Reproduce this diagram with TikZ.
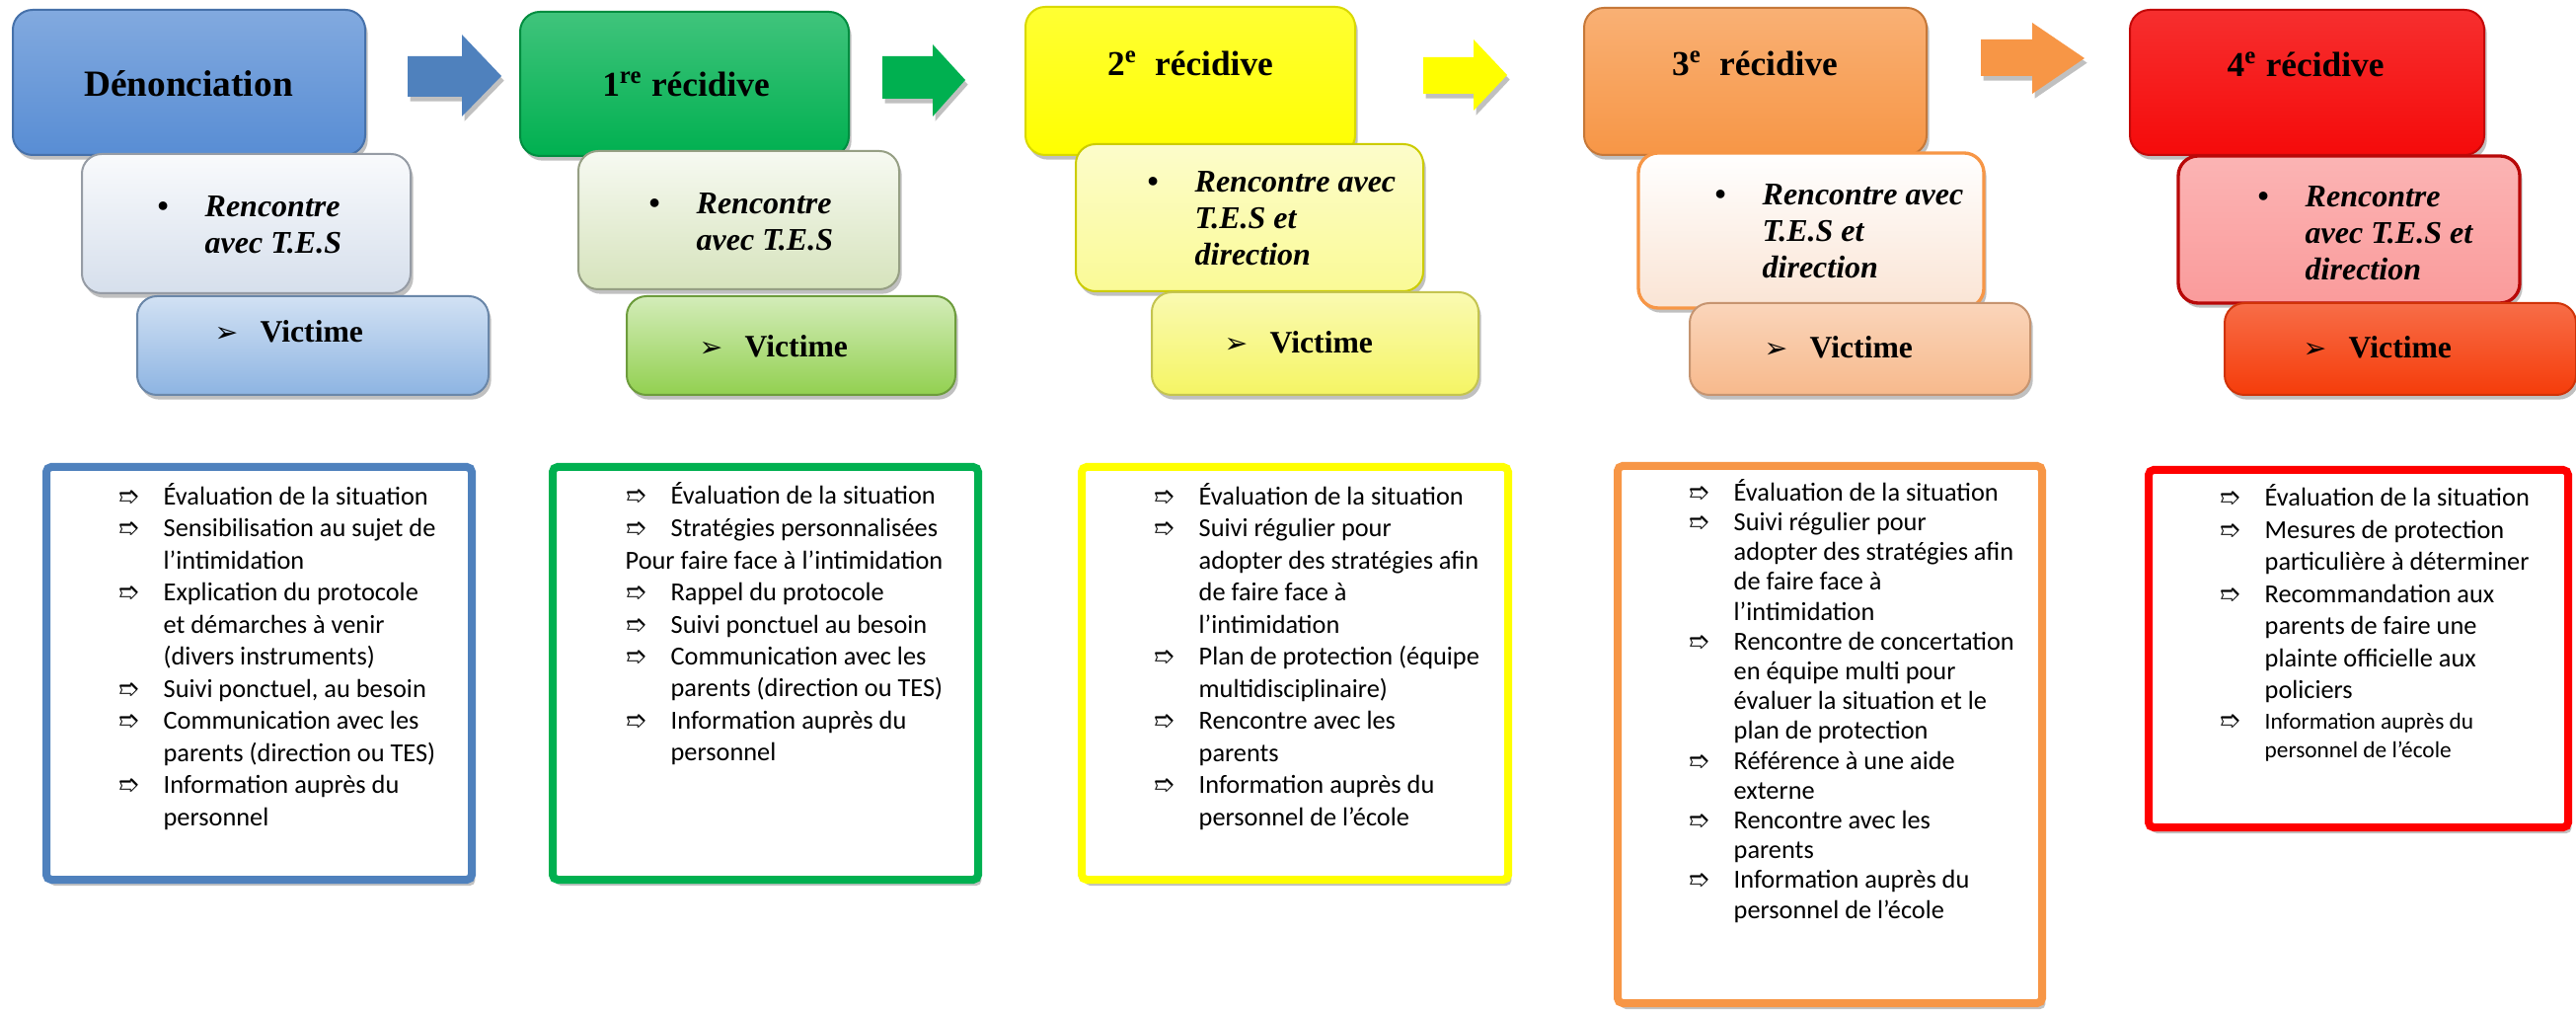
\documentclass[tikz,border=0pt]{standalone}
\usepackage{fontspec}
\setmainfont{Liberation Serif}
\newfontfamily\calib{Carlito}
\newfontfamily\djv{DejaVu Sans}
\usetikzlibrary{shadows,fit}

\definecolor{bl}{RGB}{88,141,212}
\definecolor{blR}{RGB}{214,223,236}
\definecolor{blV}{RGB}{141,180,226}
\definecolor{blB}{RGB}{79,129,189}
\definecolor{gr}{RGB}{0,176,80}
\definecolor{grR}{RGB}{214,227,188}
\definecolor{grV}{RGB}{146,208,80}
\definecolor{ye}{RGB}{255,255,0}
\definecolor{yeR}{RGB}{250,250,150}
\definecolor{yeV}{RGB}{245,245,100}
\definecolor{orc}{RGB}{247,150,70}
\definecolor{orR}{RGB}{250,228,212}
\definecolor{orV}{RGB}{247,185,140}
\definecolor{rd}{RGB}{245,10,10}
\definecolor{rdR}{RGB}{250,155,155}
\definecolor{rdV}{RGB}{245,60,10}

\newcommand\lb{\makebox[13.8pt][l]{\djv\fontsize{7.6}{6}\selectfont ➱}}
\newcommand\li{\hspace*{13.8pt}}
\newcommand\rb{\makebox[14.4pt][l]{\textup{•}}}
\newcommand\ri{\hspace*{14.4pt}}
\newcommand\vb{\makebox[13.8pt][l]{\djv\fontsize{8.5}{6}\selectfont ➢}}

\begin{document}
\begin{tikzpicture}[x=0.3pt,y=-0.3pt,
  shd/.style={drop shadow={shadow xshift=0.8pt,shadow yshift=-1.4pt,opacity=0.35,fill=black!70}},
  bx/.style={inner sep=0pt, rounded corners=6pt, line width=0.6pt, shd},
  topbox/.style={bx, draw=#1!80!black, top color=#1!75!white, bottom color=#1},
  midbox/.style={bx, top color=#1!40!white, bottom color=#1},
  lst/.style={inner sep=0pt, rounded corners=1.5pt, line width=2.4pt, fill=white,
     drop shadow={shadow xshift=1pt,shadow yshift=-1.8pt,opacity=0.4,fill=black!60}},
  ttl/.style={anchor=base, inner sep=0pt, font=\fontsize{10.6}{12}\selectfont\bfseries},
  rtx/.style={anchor=base west, inner sep=0pt, align=left, font=\fontsize{9.6}{11.1}\selectfont\bfseries\itshape},
  vtx/.style={anchor=base west, inner sep=0pt, font=\fontsize{9.5}{11}\selectfont\bfseries},
  ltx/.style={anchor=base west, inner sep=0pt, align=left, font=\calib\fontsize{7.9}{9.75}\selectfont},
  blk/.style={shd}
]
\useasboundingbox[fill=white] (0,0) rectangle (2610,1025);

% ---------- block arrows ----------
\fill[blk, fill=blB] (413,57) -- (468,57) -- (468,35) -- (508,77) -- (468,118) -- (468,98) -- (413,98) -- cycle;
\fill[blk, fill=gr] (894,57) -- (945,57) -- (945,45) -- (978,81) -- (945,118) -- (945,100) -- (894,100) -- cycle;
\fill[blk, fill=ye] (1442,58) -- (1493,58) -- (1493,40) -- (1527,76) -- (1493,112) -- (1493,95) -- (1442,95) -- cycle;
\fill[blk, fill=orc] (2007,40) -- (2059,40) -- (2059,23) -- (2112,59) -- (2059,95) -- (2059,77) -- (2007,77) -- cycle;

% ---------- column 1 ----------
\node[topbox=bl, fit={(13,10) (370,157)}] (T1) {};
\node[midbox=blR, draw=blR!70!black, top color=white!85!blR, bottom color=blR, fit={(83,156) (416,297)}] (R1) {};
\node[midbox=blV, draw=blV!75!black, fit={(139,300) (495,400)}] (V1) {};
\node[ttl, font=\fontsize{11.2}{12}\selectfont\bfseries] (T1t) at (191,98) {Dénonciation};
\node[rtx] (R1t) at (159,257) {\rb Rencontre\\\ri avec T.E.S};
\node[vtx] (V1t) at (217,347) {\vb Victime};

% ---------- column 2 ----------
\node[topbox=gr, fit={(527,12) (860,158)}] (T2) {};
\node[midbox=grR, draw=grR!70!black, top color=white!80!grR, bottom color=grR, fit={(586,153) (911,293)}] (R2) {};
\node[midbox=grV, draw=grV!75!black, fit={(635,300) (968,400)}] (V2) {};
\node[ttl] (T2t) at (695,98) {1\textsuperscript{re} récidive};
\node[rtx] (R2t) at (657,254) {\rb Rencontre\\\ri avec T.E.S};
\node[vtx] (V2t) at (708,362) {\vb Victime};

% ---------- column 3 ----------
\node[topbox=ye, draw=ye!85!black, top color=ye!80!white, bottom color=ye, fit={(1039,7) (1373,157)}] (T3) {};
\node[midbox=yeR, draw=ye!80!black, top color=yeR!50!white, bottom color=yeR, fit={(1090,146) (1442,295)}] (R3) {};
\node[midbox=yeV, draw=yeV!80!black, top color=yeV!50!white, bottom color=yeV, fit={(1167,296) (1498,400)}] (V3) {};
\node[ttl] (T3t) at (1206,77) {2\textsuperscript{e}\ \ récidive};
\node[rtx] (R3t) at (1162,269) {\rb Rencontre avec\\\ri T.E.S et\\\ri direction};
\node[vtx] (V3t) at (1240,358) {\vb Victime};

% ---------- column 4 ----------
\node[topbox=orc, fit={(1605,8) (1952,157)}] (T4) {};
\node[midbox=orR, draw=orc, line width=1pt, top color=white, bottom color=orR, fit={(1660,155) (2010,312)}] (R4) {};
\node[midbox=orV, draw=orV!80!black, top color=orV!60!white, bottom color=orV, fit={(1712,307) (2057,400)}] (V4) {};
\node[ttl] (T4t) at (1778,77) {3\textsuperscript{e}\ \ récidive};
\node[rtx] (R4t) at (1737,282) {\rb Rencontre avec\\\ri T.E.S et\\\ri direction};
\node[vtx] (V4t) at (1787,363) {\vb Victime};

% ---------- column 5 ----------
\node[topbox=rd, top color=rd!85!white, fit={(2158,10) (2517,157)}] (T5) {};
\node[midbox=rdR, draw=rd!75!black, line width=1pt, top color=rdR!75!white, bottom color=rdR, fit={(2207,158) (2553,307)}] (R5) {};
\node[midbox=rdV, draw=rdV!85!black, top color=rdV!75!white, bottom color=rdV, fit={(2254,307) (2610,400)}] (V5) {};
\node[ttl] (T5t) at (2336,78) {4\textsuperscript{e} récidive};
\node[rtx] (R5t) at (2287,284) {\rb Rencontre\\\ri avec T.E.S et\\\ri direction};
\node[vtx] (V5t) at (2333,363) {\vb Victime};

% ---------- bottom lists ----------
\node[lst, draw=blB, fit={(47,473) (478,891)}] (B1) {};
\node[lst, draw=gr, fit={(560,473) (991,891)}] (B2) {};
\node[lst, draw=ye, fit={(1096,473) (1528,891)}] (B3) {};
\node[lst, draw=orc, fit={(1639,472) (2069,1016)}] (B4) {};
\node[lst, draw=red, fit={(2177,476) (2602,838)}] (B5) {};

\node[ltx] (B1t) at (119,836) {\lb Évaluation de la situation\\
\lb Sensibilisation au sujet de\\
\li l’intimidation\\
\lb Explication du protocole\\
\li et démarches à venir\\
\li (divers instruments)\\
\lb Suivi ponctuel, au besoin\\
\lb Communication avec les\\
\li parents (direction ou TES)\\
\lb Information auprès du\\
\li personnel};

\node[ltx] (B2t) at (633,771) {\lb Évaluation de la situation\\
\lb Stratégies personnalisées\\
Pour faire face à l’intimidation\\
\lb Rappel du protocole\\
\lb Suivi ponctuel au besoin\\
\lb Communication avec les\\
\li parents (direction ou TES)\\
\lb Information auprès du\\
\li personnel};

\node[ltx] (B3t) at (1168,836) {\lb Évaluation de la situation\\
\lb Suivi régulier pour\\
\li adopter des stratégies afin\\
\li de faire face à\\
\li l’intimidation\\
\lb Plan de protection (équipe\\
\li multidisciplinaire)\\
\lb Rencontre avec les\\
\li parents\\
\lb Information auprès du\\
\li personnel de l’école};

\node[ltx, font=\calib\fontsize{7.9}{9.06}\selectfont] (B4t) at (1710,930) {\lb Évaluation de la situation\\
\lb Suivi régulier pour\\
\li adopter des stratégies afin\\
\li de faire face à\\
\li l’intimidation\\
\lb Rencontre de concertation\\
\li en équipe multi pour\\
\li évaluer la situation et le\\
\li plan de protection\\
\lb Référence à une aide\\
\li externe\\
\lb Rencontre avec les\\
\li parents\\
\lb Information auprès du\\
\li personnel de l’école};

\node[ltx] (B5t) at (2248,708) {\lb Évaluation de la situation\\
\lb Mesures de protection\\
\li particulière à déterminer\\
\lb Recommandation aux\\
\li parents de faire une\\
\li plainte officielle aux\\
\li policiers};
\node[ltx, font=\calib\fontsize{7}{8.6}\selectfont] (B5u) at (2248,767) {\lb Information auprès du\\
\li personnel de l’école};
\end{tikzpicture}
\end{document}
